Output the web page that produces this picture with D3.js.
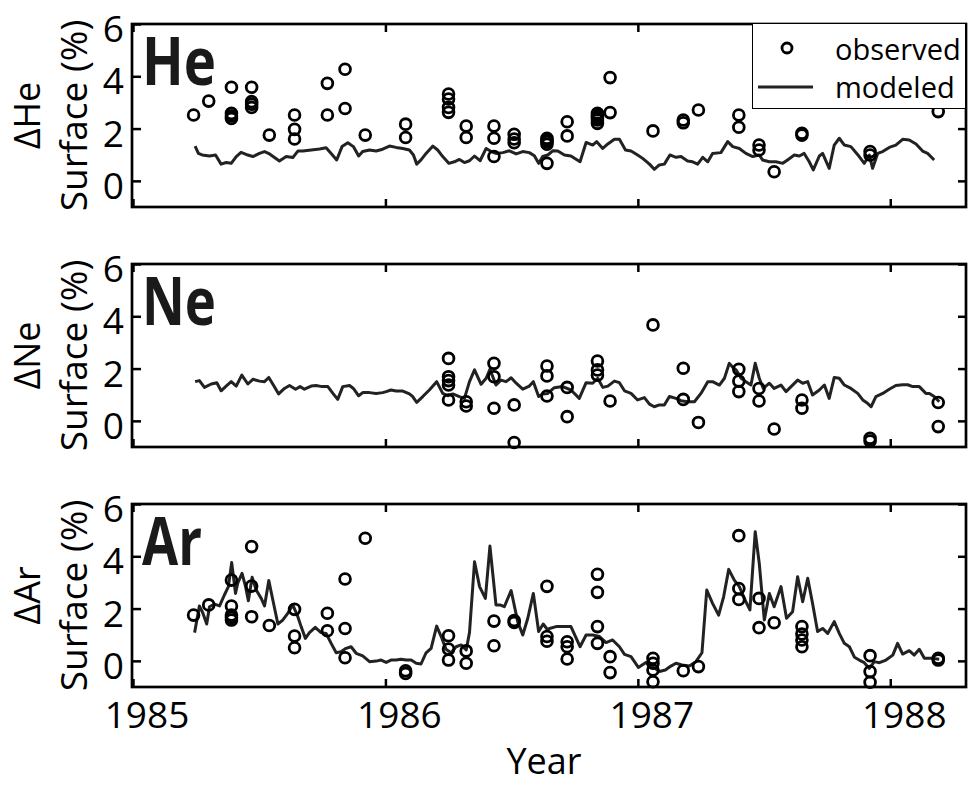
<!DOCTYPE html>
<html>
<head>
<meta charset="utf-8">
<script src="https://cdn.jsdelivr.net/npm/d3@7"></script>
<style>
  body { margin: 0; background: #fff; }
  text { font-family: "Open Sans", "Noto Sans", sans-serif; }
</style>
</head>
<body>
<svg id="chart" width="968" height="785"></svg>
<script>
// tick values
var yearTicks = [1985, 1986, 1987, 1988];
var valueTicks = [0, 2, 4, 6];

// modeled series: [decimal year, surface anomaly %]
var heModeled = [[1985.246,1.33],[1985.259,1.05],[1985.274,0.99],[1985.303,0.95],[1985.327,0.99],[1985.349,0.64],[1985.369,0.70],[1985.389,0.67],[1985.409,0.93],[1985.428,1.09],[1985.448,1.01],[1985.475,0.93],[1985.501,1.05],[1985.521,1.12],[1985.541,1.03],[1985.580,0.76],[1985.607,0.93],[1985.633,0.89],[1985.653,1.14],[1985.673,1.14],[1985.706,1.18],[1985.739,1.22],[1985.765,1.27],[1985.785,1.05],[1985.807,0.80],[1985.828,1.31],[1985.851,1.46],[1985.873,1.31],[1985.894,0.95],[1985.910,1.12],[1985.937,1.18],[1985.963,1.14],[1985.989,1.21],[1986.016,1.33],[1986.042,1.28],[1986.069,1.24],[1986.095,1.18],[1986.111,0.99],[1986.124,0.64],[1986.141,0.80],[1986.161,1.05],[1986.188,1.33],[1986.207,1.18],[1986.227,0.93],[1986.251,0.67],[1986.273,0.73],[1986.293,0.82],[1986.313,0.70],[1986.333,0.77],[1986.353,0.95],[1986.375,0.77],[1986.399,1.24],[1986.419,1.12],[1986.438,1.05],[1986.465,1.08],[1986.491,1.15],[1986.518,1.03],[1986.544,1.12],[1986.570,1.08],[1986.590,0.96],[1986.607,0.67],[1986.623,0.93],[1986.643,0.99],[1986.663,1.15],[1986.683,1.14],[1986.709,0.99],[1986.735,0.95],[1986.771,0.73],[1986.795,1.47],[1986.821,1.37],[1986.837,1.50],[1986.861,1.24],[1986.881,1.41],[1986.907,1.59],[1986.927,1.59],[1986.951,1.18],[1986.973,1.14],[1986.999,0.99],[1987.019,0.86],[1987.046,0.64],[1987.065,0.44],[1987.085,0.61],[1987.105,0.64],[1987.127,0.99],[1987.151,0.90],[1987.171,0.93],[1987.197,0.76],[1987.217,0.73],[1987.237,0.64],[1987.257,0.90],[1987.277,0.73],[1987.296,1.05],[1987.329,1.08],[1987.356,1.50],[1987.376,1.31],[1987.402,1.24],[1987.428,1.05],[1987.455,0.93],[1987.481,0.99],[1987.494,0.80],[1987.521,0.73],[1987.547,0.73],[1987.574,0.67],[1987.593,0.80],[1987.620,0.99],[1987.640,0.95],[1987.659,1.05],[1987.679,0.73],[1987.695,0.42],[1987.719,0.95],[1987.732,1.05],[1987.758,0.48],[1987.778,1.37],[1987.798,1.63],[1987.818,1.37],[1987.844,1.31],[1987.877,0.93],[1987.897,0.67],[1987.917,0.99],[1987.930,0.48],[1987.950,1.05],[1987.970,1.12],[1987.996,1.28],[1988.022,1.37],[1988.049,1.59],[1988.075,1.56],[1988.102,1.41],[1988.128,1.14],[1988.148,1.05],[1988.174,0.80]];

var neModeled = [[1985.246,1.50],[1985.263,1.54],[1985.283,1.28],[1985.310,1.41],[1985.332,1.46],[1985.349,1.15],[1985.369,1.33],[1985.389,1.50],[1985.409,1.33],[1985.431,1.75],[1985.455,1.41],[1985.475,1.59],[1985.501,1.52],[1985.521,1.50],[1985.538,1.66],[1985.556,1.37],[1985.577,1.03],[1985.600,1.24],[1985.620,1.35],[1985.644,1.21],[1985.662,1.31],[1985.679,1.21],[1985.706,1.33],[1985.725,1.35],[1985.749,1.31],[1985.772,1.31],[1985.792,1.05],[1985.811,0.82],[1985.831,1.31],[1985.858,1.35],[1985.873,1.24],[1985.894,0.96],[1985.910,1.08],[1985.937,1.08],[1985.963,1.05],[1985.989,1.08],[1986.003,1.12],[1986.022,1.18],[1986.042,1.14],[1986.069,1.14],[1986.095,1.03],[1986.108,0.93],[1986.124,0.71],[1986.148,0.93],[1986.174,1.18],[1986.203,1.50],[1986.227,1.05],[1986.247,0.96],[1986.267,1.03],[1986.293,0.93],[1986.313,0.86],[1986.333,1.50],[1986.353,1.95],[1986.379,1.40],[1986.399,1.63],[1986.414,1.97],[1986.438,1.37],[1986.458,1.56],[1986.478,1.50],[1986.498,1.65],[1986.518,1.44],[1986.544,1.21],[1986.570,1.33],[1986.586,1.50],[1986.607,0.93],[1986.623,1.03],[1986.643,1.05],[1986.669,1.27],[1986.702,1.31],[1986.735,1.18],[1986.768,0.86],[1986.795,1.46],[1986.821,1.44],[1986.841,1.63],[1986.861,1.28],[1986.881,1.33],[1986.907,1.52],[1986.927,1.46],[1986.947,1.15],[1986.973,1.05],[1986.999,0.80],[1987.026,0.89],[1987.046,0.64],[1987.065,0.54],[1987.085,0.61],[1987.105,0.61],[1987.125,0.93],[1987.151,0.86],[1987.171,0.77],[1987.197,0.73],[1987.224,0.73],[1987.250,1.05],[1987.277,1.50],[1987.296,1.50],[1987.323,1.37],[1987.343,1.63],[1987.362,2.20],[1987.376,2.05],[1987.389,1.95],[1987.409,1.63],[1987.428,1.50],[1987.448,1.37],[1987.465,2.20],[1987.481,1.63],[1987.497,1.24],[1987.521,1.44],[1987.540,1.24],[1987.567,1.37],[1987.587,1.12],[1987.607,1.31],[1987.633,1.56],[1987.653,1.44],[1987.673,1.50],[1987.692,0.99],[1987.719,1.18],[1987.739,1.37],[1987.758,0.86],[1987.778,1.66],[1987.798,1.63],[1987.818,1.37],[1987.844,1.24],[1987.871,1.05],[1987.891,0.80],[1987.910,0.67],[1987.924,0.54],[1987.943,0.93],[1987.970,1.05],[1987.996,1.21],[1988.022,1.35],[1988.049,1.38],[1988.069,1.38],[1988.089,1.31],[1988.115,1.31],[1988.141,1.05],[1988.155,1.05],[1988.174,0.93],[1988.194,0.73]];

var arModeled = [[1985.244,1.08],[1985.263,2.10],[1985.277,1.82],[1985.292,1.41],[1985.303,2.07],[1985.323,2.17],[1985.343,2.10],[1985.362,2.52],[1985.378,2.84],[1985.391,3.76],[1985.406,2.58],[1985.415,2.97],[1985.432,3.35],[1985.446,2.84],[1985.457,2.30],[1985.472,3.20],[1985.488,2.71],[1985.508,2.39],[1985.521,2.10],[1985.538,3.07],[1985.554,2.33],[1985.574,1.41],[1985.593,1.56],[1985.613,1.82],[1985.633,2.14],[1985.653,1.69],[1985.666,1.31],[1985.683,0.86],[1985.699,1.08],[1985.722,1.28],[1985.745,1.08],[1985.765,1.05],[1985.785,0.67],[1985.805,0.31],[1985.824,0.35],[1985.844,0.48],[1985.864,0.54],[1985.884,0.29],[1985.910,0.19],[1985.937,-0.03],[1985.963,-0.01],[1985.983,0.03],[1986.003,-0.06],[1986.022,0.03],[1986.042,0.03],[1986.062,0.06],[1986.082,0.03],[1986.102,0.03],[1986.122,-0.09],[1986.141,-0.12],[1986.161,0.31],[1986.181,0.48],[1986.203,1.33],[1986.221,0.93],[1986.240,0.44],[1986.260,0.31],[1986.280,0.54],[1986.300,0.61],[1986.320,0.42],[1986.333,1.08],[1986.353,3.79],[1986.373,2.84],[1986.396,2.39],[1986.414,4.39],[1986.438,2.14],[1986.454,2.14],[1986.471,2.07],[1986.498,2.69],[1986.524,1.50],[1986.544,0.99],[1986.564,1.63],[1986.586,2.58],[1986.607,1.12],[1986.625,1.41],[1986.643,1.18],[1986.650,1.24],[1986.676,1.31],[1986.702,1.31],[1986.735,1.31],[1986.771,0.54],[1986.795,0.99],[1986.821,0.99],[1986.848,0.93],[1986.874,0.70],[1986.900,0.80],[1986.927,0.54],[1986.947,0.25],[1986.973,0.16],[1987.002,-0.25],[1987.032,-0.06],[1987.059,-0.22],[1987.085,-0.41],[1987.109,-0.35],[1987.131,-0.20],[1987.151,-0.09],[1987.175,-0.16],[1987.204,-0.20],[1987.230,-0.03],[1987.254,0.31],[1987.273,2.71],[1987.296,2.20],[1987.320,1.75],[1987.340,2.46],[1987.360,3.50],[1987.382,3.09],[1987.402,2.84],[1987.428,2.26],[1987.444,1.95],[1987.465,4.94],[1987.481,3.73],[1987.501,1.56],[1987.521,2.58],[1987.540,2.07],[1987.567,2.84],[1987.589,1.63],[1987.613,1.88],[1987.633,3.22],[1987.653,2.26],[1987.673,3.16],[1987.692,2.20],[1987.712,1.12],[1987.732,1.24],[1987.752,1.05],[1987.778,1.50],[1987.798,1.05],[1987.818,0.67],[1987.838,0.54],[1987.858,0.14],[1987.877,0.03],[1987.897,-0.07],[1987.917,-0.29],[1987.937,-0.03],[1987.957,-0.07],[1987.983,0.03],[1988.010,0.22],[1988.029,0.67],[1988.049,0.26],[1988.075,0.39],[1988.095,0.22],[1988.115,0.44],[1988.135,0.10],[1988.161,0.10],[1988.194,0.06]];

// observed samples: [decimal year, surface anomaly %]
var heObserved = [[1985.24,2.52],[1985.30,3.05],[1985.39,3.58],[1985.39,2.58],[1985.39,2.48],[1985.39,2.39],[1985.47,3.58],[1985.47,3.03],[1985.47,2.93],[1985.47,2.81],[1985.54,1.75],[1985.64,2.52],[1985.64,1.97],[1985.64,1.60],[1985.77,3.73],[1985.77,2.52],[1985.84,4.27],[1985.84,2.77],[1985.92,1.75],[1986.08,2.17],[1986.08,1.66],[1986.25,3.32],[1986.25,3.13],[1986.25,2.81],[1986.25,2.62],[1986.32,2.10],[1986.32,1.66],[1986.43,2.10],[1986.43,1.63],[1986.43,0.93],[1986.51,1.78],[1986.51,1.60],[1986.51,1.46],[1986.64,1.63],[1986.64,1.55],[1986.64,1.50],[1986.64,1.40],[1986.64,0.67],[1986.72,2.26],[1986.72,1.72],[1986.84,2.58],[1986.84,2.50],[1986.84,2.45],[1986.84,2.40],[1986.84,2.33],[1986.84,2.20],[1986.89,3.95],[1986.89,2.61],[1987.06,1.91],[1987.18,2.33],[1987.18,2.22],[1987.24,2.71],[1987.40,2.52],[1987.40,2.05],[1987.48,1.37],[1987.48,1.18],[1987.54,0.35],[1987.65,1.82],[1987.65,1.75],[1987.92,1.12],[1987.92,0.99],[1988.19,2.65]];

var neObserved = [[1986.25,2.39],[1986.25,1.69],[1986.25,1.54],[1986.25,1.37],[1986.25,0.80],[1986.32,0.73],[1986.32,0.57],[1986.43,2.20],[1986.43,1.69],[1986.43,0.48],[1986.51,0.61],[1986.51,-0.83],[1986.64,2.10],[1986.64,1.72],[1986.64,0.95],[1986.72,1.28],[1986.72,0.16],[1986.84,2.29],[1986.84,1.95],[1986.84,1.75],[1986.89,0.76],[1987.06,3.67],[1987.18,2.01],[1987.18,0.82],[1987.24,-0.06],[1987.40,1.97],[1987.40,1.52],[1987.40,1.12],[1987.48,1.24],[1987.48,0.76],[1987.54,-0.31],[1987.65,0.80],[1987.65,0.48],[1987.92,-0.67],[1987.92,-0.77],[1988.19,0.70],[1988.19,-0.22]];

var arObserved = [[1985.24,1.75],[1985.30,2.14],[1985.39,3.09],[1985.39,2.10],[1985.39,1.75],[1985.39,1.66],[1985.39,1.56],[1985.47,4.37],[1985.47,2.86],[1985.47,1.69],[1985.54,1.35],[1985.64,1.97],[1985.64,0.95],[1985.64,0.50],[1985.77,1.82],[1985.77,1.15],[1985.84,3.13],[1985.84,1.24],[1985.84,0.12],[1985.92,4.69],[1986.08,-0.38],[1986.08,-0.48],[1986.25,0.96],[1986.25,0.45],[1986.25,0.03],[1986.32,0.38],[1986.32,-0.09],[1986.43,1.52],[1986.43,0.58],[1986.51,1.54],[1986.51,1.47],[1986.64,2.85],[1986.64,0.93],[1986.64,0.75],[1986.72,0.73],[1986.72,0.54],[1986.72,0.07],[1986.84,3.31],[1986.84,2.62],[1986.84,1.31],[1986.84,0.67],[1986.89,0.16],[1986.89,-0.45],[1987.06,0.10],[1987.06,-0.09],[1987.06,-0.35],[1987.06,-0.80],[1987.18,-0.38],[1987.24,-0.22],[1987.40,4.79],[1987.40,2.77],[1987.40,2.35],[1987.48,2.39],[1987.48,1.27],[1987.54,1.46],[1987.65,1.31],[1987.65,1.03],[1987.65,0.80],[1987.65,0.54],[1987.92,0.20],[1987.92,-0.41],[1987.92,-0.82],[1988.19,0.10],[1988.19,0.03]];

var panels = [
  { gas: "He", top: 24,  modeled: heModeled, observed: heObserved },
  { gas: "Ne", top: 264, modeled: neModeled, observed: neObserved },
  { gas: "Ar", top: 504, modeled: arModeled, observed: arObserved }
];

var svg = d3.select("#chart");
var panelH = 183;
var left = 133, right = 966;
var tickLen = 8;
var fontSize = 37;

var x = d3.scaleLinear().domain([1985, 1988.3]).range([left, right]);

panels.forEach(function (p, i) {
  var y = d3.scaleLinear().domain([-1, 6]).range([p.top + panelH, p.top]);
  var g = svg.append("g");

  // inward ticks on all four sides
  var axes = [
    [d3.axisBottom(x).tickValues(yearTicks), "translate(0," + (p.top + panelH) + ")"],
    [d3.axisTop(x).tickValues(yearTicks), "translate(0," + p.top + ")"],
    [d3.axisLeft(y).tickValues(valueTicks), "translate(" + left + ",0)"],
    [d3.axisRight(y).tickValues(valueTicks), "translate(" + right + ",0)"]
  ];
  axes.forEach(function (a) {
    var ax = g.append("g").attr("transform", a[1])
      .call(a[0].tickSize(-tickLen).tickFormat(""));
    ax.select(".domain").remove();
    ax.selectAll("line").attr("stroke", "#000").attr("stroke-width", 2.5);
  });

  // modeled line
  var line = d3.line().x(function (d) { return x(d[0]); }).y(function (d) { return y(d[1]); });
  g.append("path").datum(p.modeled)
    .attr("d", line)
    .attr("fill", "none")
    .attr("stroke", "#222")
    .attr("stroke-width", 3)
    .attr("stroke-linejoin", "round");

  // observed circles
  g.selectAll("circle.obs").data(p.observed).enter().append("circle")
    .attr("class", "obs")
    .attr("cx", function (d) { return x(d[0]); })
    .attr("cy", function (d) { return y(d[1]); })
    .attr("r", 5.4)
    .attr("fill", "none")
    .attr("stroke", "#000")
    .attr("stroke-width", 2.8);

  // box
  g.append("rect")
    .attr("x", left - 1).attr("y", p.top)
    .attr("width", right - left + 1).attr("height", panelH)
    .attr("fill", "none").attr("stroke", "#000").attr("stroke-width", 2.7);

  // y tick labels
  g.selectAll("text.ytick").data(valueTicks).enter().append("text")
    .attr("class", "ytick")
    .attr("x", 124)
    .attr("y", function (d) { return y(d) + 18; })
    .attr("text-anchor", "end")
    .attr("font-size", fontSize)
    .text(function (d) { return d; });

  // y axis title (two lines)
  var cy = p.top + panelH / 2;
  g.append("text")
    .attr("transform", "translate(40," + cy + ") rotate(-90)")
    .attr("text-anchor", "middle").attr("font-size", 36)
    .text("\u0394" + p.gas);
  g.append("text")
    .attr("transform", "translate(87," + cy + ") rotate(-90)")
    .attr("text-anchor", "middle").attr("font-size", fontSize)
    .text("Surface (%)");

  // gas label
  g.append("text")
    .attr("x", 142).attr("y", p.top + 61)
    .attr("font-size", 66).attr("font-weight", "bold")
    .attr("fill", "#1a1a1a")
    .attr("textLength", p.gas === "Ar" ? 60 : 74)
    .attr("lengthAdjust", "spacingAndGlyphs")
    .text(p.gas);

  // x tick labels on bottom panel only
  if (i === panels.length - 1) {
    g.selectAll("text.xtick").data(yearTicks).enter().append("text")
      .attr("class", "xtick")
      .attr("x", function (d) { return x(d) + 14; })
      .attr("y", p.top + panelH + 41)
      .attr("text-anchor", "middle")
      .attr("font-size", fontSize)
      .text(function (d) { return d; });
  }
});

svg.append("text")
  .attr("x", 544).attr("y", 774)
  .attr("text-anchor", "middle").attr("font-size", 36)
  .text("Year");

// legend (top panel)
var lg = svg.append("g");
lg.append("rect")
  .attr("x", 752.5).attr("y", 23.5).attr("width", 213).attr("height", 85)
  .attr("fill", "#fff").attr("stroke", "#000").attr("stroke-width", 1);
lg.append("circle")
  .attr("cx", 787).attr("cy", 48).attr("r", 5)
  .attr("fill", "none").attr("stroke", "#000").attr("stroke-width", 2.8);
lg.append("line")
  .attr("x1", 758).attr("x2", 813).attr("y1", 87).attr("y2", 87)
  .attr("stroke", "#222").attr("stroke-width", 3);
lg.append("text").attr("x", 835).attr("y", 60).attr("font-size", 29).text("observed");
lg.append("text").attr("x", 835).attr("y", 98).attr("font-size", 29).text("modeled");
</script>
</body>
</html>
